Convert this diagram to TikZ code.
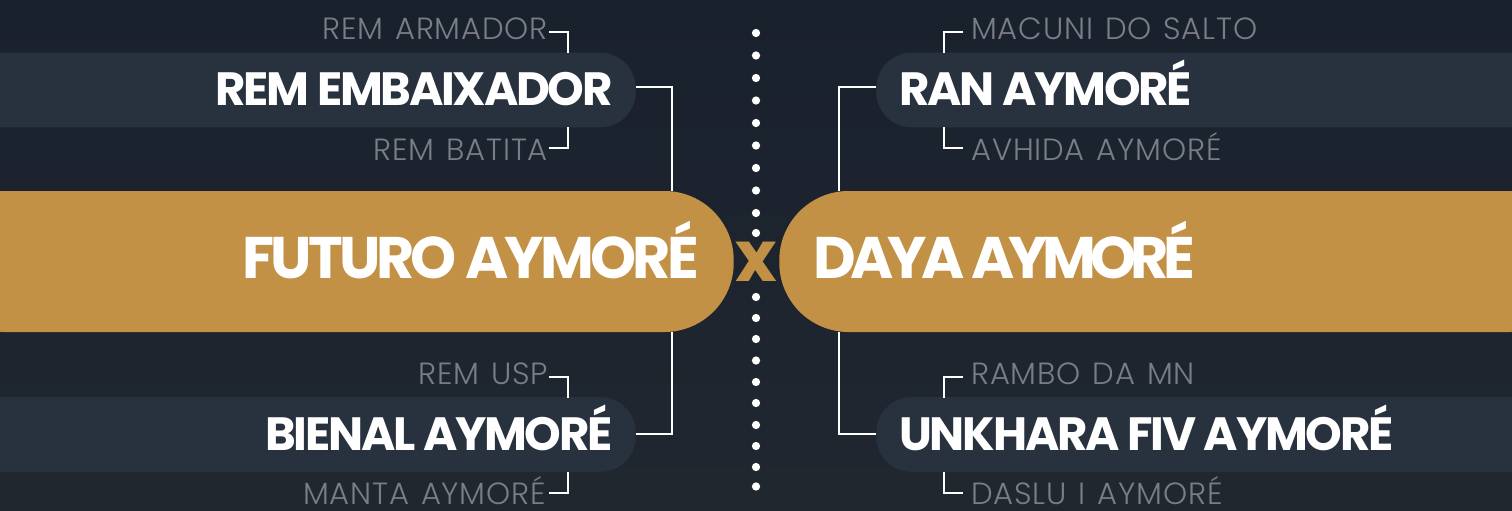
\documentclass[tikz,border=0pt]{standalone}
\usepackage{fontspec}
\setmainfont{Poppins}
\newfontfamily\labfont[LetterSpace=2.6,WordSpace=1.3]{Poppins Light}
\newfontfamily\titlefont[LetterSpace=-4.8]{Poppins Bold}
\newfontfamily\bigfont[LetterSpace=-6.6]{Poppins Bold}
\newfontfamily\dayafont[LetterSpace=-9.8]{Poppins Bold}
\definecolor{bgtop}{HTML}{19212D}
\definecolor{bgbot}{HTML}{21272F}
\definecolor{pill}{HTML}{28323F}
\definecolor{gold}{HTML}{C29145}
\definecolor{lab}{HTML}{7A7D87}
\tikzset{
  px/.style={x=0.75pt,y=-0.75pt},
  pillshape/.style={fill=pill,rounded corners=26.5pt,inner sep=0,minimum height=55.9pt},
  goldshape/.style={fill=gold,rounded corners=52pt,inner sep=0,minimum height=105.75pt},
  title/.style={text=white,inner sep=0,font=\titlefont\fontsize{35}{35}\selectfont},
  bigtitle/.style={text=white,inner sep=0,font=\bigfont\fontsize{44}{44}\selectfont},
  sublab/.style={text=lab,inner sep=0,font=\labfont\fontsize{23}{23}\selectfont},
  wire/.style={draw=white,line width=1.4pt},
  dotm/.style={circle,fill=white,inner sep=0,minimum size=6.2pt},
}
\begin{document}
\begin{tikzpicture}[px]
\useasboundingbox (0,0) rectangle (1512,510);
\shade[top color=bgtop,bottom color=bgbot] (0,0) rectangle (1512,510);
% pills
\node[pillshape,minimum width=522pt,anchor=east] (pa) at (636,90) {};
\node[pillshape,minimum width=522pt,anchor=east] (pb) at (636,434.5) {};
\node[pillshape,minimum width=522pt,anchor=west] (pc) at (876,90) {};
\node[pillshape,minimum width=522pt,anchor=west] (pd) at (876,434.5) {};
% gold
\node[goldshape,minimum width=600pt,anchor=east] (gl) at (734,261.5) {};
\node[goldshape,minimum width=600pt,anchor=west] (gr) at (779,261.5) {};
% joints
\coordinate (ja) at (672,191); \coordinate (jb) at (672,332);
\coordinate (jc) at (839,191); \coordinate (jd) at (839,332);
\draw[wire] ([yshift=2.25pt]pa.east) -| (ja);
\draw[wire] ([yshift=0.6pt]pb.east) -| (jb);
\draw[wire] ([yshift=2.25pt]pc.west) -| (jc);
\draw[wire] ([yshift=0.6pt]pd.west) -| (jd);
% dots
\foreach \i/\y in {1/33,2/55.5,3/78,4/100.5,5/123,6/145.5,7/168,8/190.5,9/213,10/233,11/297,12/318,13/339,14/360.5,15/382,16/403,17/425,18/446,19/467,20/486.5}
  \node[dotm] (dot\i) at (756,\y) {};
% titles
\node[title,anchor=base east] (ta) at (613,105) {REM EMBAIXADOR};
\node[title,anchor=base east] (tb) at (613,450) {BIENAL AYMORÉ};
\node[title,anchor=base west] (tc) at (899,105) {RAN AYMORÉ};
\node[title,anchor=base west] (td) at (899,450) {UNKHARA FIV AYMORÉ};
\node[bigtitle,anchor=base east] (tg) at (699,278) {FUTURO AYMORÉ};
\node[bigtitle,font=\dayafont\fontsize{44}{44}\selectfont,anchor=base west] (th) at (813,278) {DAYA AYMORÉ};
\node[bigtitle,text=gold,font=\bigfont\fontsize{53}{53}\selectfont,anchor=base] (tx) at (756,281) {x};
% labels
\node[sublab,anchor=base east] (l1) at (548,40) {REM ARMADOR};
\node[sublab,anchor=base east] (l2) at (548,160) {REM BATITA};
\node[sublab,anchor=base east] (l3) at (548,384) {REM USP};
\node[sublab,anchor=base east] (l4) at (546,504) {MANTA AYMORÉ};
\node[sublab,anchor=base west] (l5) at (971,40) {MACUNI DO SALTO};
\node[sublab,anchor=base west] (l6) at (971,160) {AVHIDA AYMORÉ};
\node[sublab,anchor=base west] (l7) at (971,384) {RAMBO DA MN};
\node[sublab,anchor=base west] (l8) at (971,504) {DASLU I AYMORÉ};
% label connectors
\coordinate (s1) at (549,32); \coordinate (e1) at (568,53);
\coordinate (s2) at (549,148); \coordinate (e2) at (568,127);
\coordinate (s3) at (549,377); \coordinate (e3) at (568,398);
\coordinate (s4) at (549,493); \coordinate (e4) at (568,472);
\coordinate (s5) at (963,32); \coordinate (e5) at (944,53);
\coordinate (s6) at (963,148); \coordinate (e6) at (944,127);
\coordinate (s7) at (963,377); \coordinate (e7) at (944,398);
\coordinate (s8) at (963,493); \coordinate (e8) at (944,472);
\foreach \i in {1,...,8} \draw[wire] (s\i) -| (e\i);
\end{tikzpicture}
\end{document}
